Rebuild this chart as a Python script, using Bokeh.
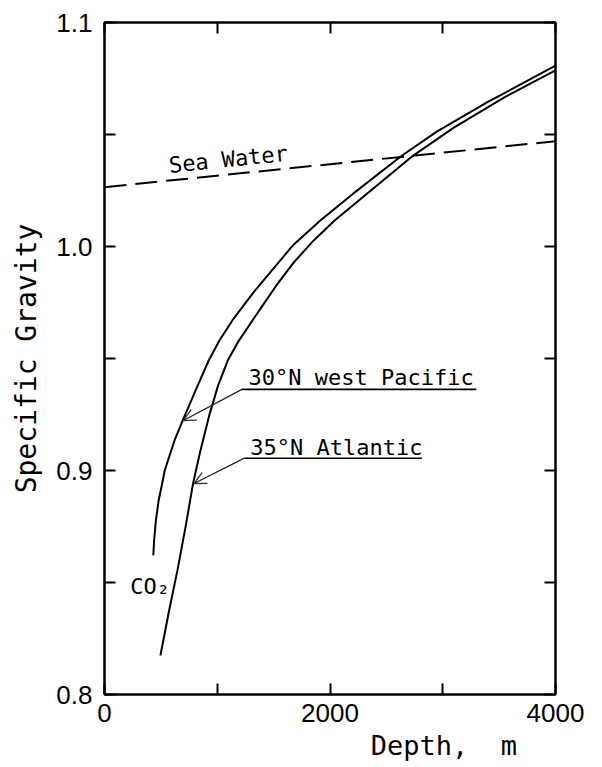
import math
from bokeh.plotting import figure
from bokeh.models import (LinearAxis, FixedTicker, Range1d, Label, Arrow, OpenHead,
                          PrintfTickFormatter)
from bokeh.embed import file_html
from bokeh.resources import INLINE

# ---- data ----
sea_depth = [0, 4000]
sea_sg = [1.0265, 1.0470]

pacific_depth = [433, 440, 456, 480, 508, 534, 621, 693, 807, 924, 1019, 1134, 1313, 1669,
                 1914, 2208, 2627, 2947, 3392, 4000]
pacific_sg = [0.8621, 0.8688, 0.8777, 0.8866, 0.8933, 0.9000, 0.9134, 0.9223, 0.9357,
              0.9491, 0.9580, 0.9670, 0.9790, 1.0004, 1.0116, 1.0237, 1.0402, 1.0513,
              1.0643, 1.0808]

atlantic_depth = [496, 573, 647, 721, 787, 851, 929, 1007, 1093, 1192, 1372, 1524, 1679,
                  1855, 2041, 2738, 3098, 3543, 4000]
atlantic_sg = [0.8174, 0.8375, 0.8554, 0.8754, 0.8946, 0.9089, 0.9246, 0.9379, 0.9491,
               0.9580, 0.9714, 0.9826, 0.9929, 1.0027, 1.0116, 1.0406, 1.0531, 1.0665,
               1.0786]

x_major = [0, 2000, 4000]
x_minor = [1000, 3000]
y_major = [0.8, 0.9, 1.0, 1.1]
y_minor = [0.85, 0.95, 1.05]

NB = "\u00a0"
x_title = NB * 14 + "Depth," + NB * 2 + "m"
y_title = "Specific Gravity"

# annotation anchors (data coordinates)
pac_label = (1278, 0.9388)
pac_underline = ([1219, 3298], [0.9362, 0.9362])
pac_arrow = (1219, 0.9362, 700, 0.9223)
atl_label = (1293, 0.9076)
atl_underline = ([1240, 2815], [0.9055, 0.9055])
atl_arrow = (1240, 0.9055, 795, 0.8942)
sea_label = (572, 1.0335)
co2_label = (229, 0.8455)

MONO = "DejaVu Sans Mono"
SANS = "Liberation Sans"

p = figure(width=594, height=767, output_backend="svg", toolbar_location=None,
           x_range=Range1d(0, 4000), y_range=Range1d(0.8, 1.1),
           x_axis_location=None, y_axis_location=None,
           min_border_left=104, min_border_right=39, min_border_top=22, min_border_bottom=73)
p.xgrid.visible = False
p.ygrid.visible = False
p.outline_line_color = "black"
p.outline_line_width = 2
p.background_fill_color = "white"
p.border_fill_color = "white"


def make_axis(kind, show_labels):
    if kind == "x":
        major, minor = x_major, x_minor
    else:
        major, minor = y_major, y_minor
    if show_labels:
        t = FixedTicker(ticks=major, minor_ticks=minor)
    else:
        t = FixedTicker(ticks=[], minor_ticks=sorted(major + minor))
    ax = LinearAxis(ticker=t)
    if kind == "y":
        ax.formatter = PrintfTickFormatter(format="%.1f")
    ax.major_tick_in = 11
    ax.major_tick_out = 0
    ax.minor_tick_in = 11
    ax.minor_tick_out = 0
    ax.major_tick_line_width = 2
    ax.minor_tick_line_width = 2
    ax.axis_line_width = 2
    ax.axis_line_color = "black"
    ax.major_tick_line_color = "black"
    ax.minor_tick_line_color = "black"
    ax.major_label_text_font = SANS
    ax.major_label_text_color = "black"
    ax.major_label_text_font_size = "26px"
    ax.major_label_standoff = 9 if kind == "x" else 12
    ax.axis_label_text_font = MONO
    ax.axis_label_text_font_style = "normal"
    ax.axis_label_text_color = "black"
    return ax


xb = make_axis("x", True)
xb.axis_label = x_title
xb.axis_label_text_font_size = "27px"
xb.axis_label_standoff = 5
p.add_layout(xb, "below")
p.add_layout(make_axis("x", False), "above")
yl = make_axis("y", True)
yl.axis_label = y_title
yl.axis_label_text_font_size = "28px"
yl.axis_label_standoff = 10
p.add_layout(yl, "left")
p.add_layout(make_axis("y", False), "right")

# curves
p.line(sea_depth, sea_sg, line_color="black", line_width=2, line_dash="22 9")
p.line(pacific_depth, pacific_sg, line_color="black", line_width=2)
p.line(atlantic_depth, atlantic_sg, line_color="black", line_width=2)

# underlines
p.line(pac_underline[0], pac_underline[1], line_color="black", line_width=1.6)
p.line(atl_underline[0], atl_underline[1], line_color="black", line_width=1.6)

# arrows
for a in (pac_arrow, atl_arrow):
    p.add_layout(Arrow(end=OpenHead(size=12, line_width=1.3, line_color="#333333"),
                       x_start=a[0], y_start=a[1], x_end=a[2], y_end=a[3],
                       line_width=1.3, line_color="#222222"))

# texts
for (pos, txt, ang) in ((pac_label, "30°N west Pacific", 0.0),
                        (atl_label, "35°N Atlantic", 0.0),
                        (sea_label, "Sea Water", math.atan2(46, 449)),
                        (co2_label, "CO₂", 0.0)):
    p.add_layout(Label(x=pos[0], y=pos[1], text=txt, angle=ang, y_offset=6,
                       text_font=MONO, text_font_size="22px", text_color="black",
                       text_baseline="alphabetic", text_align="left"))

open("out.html", "w").write(file_html(p, INLINE))
